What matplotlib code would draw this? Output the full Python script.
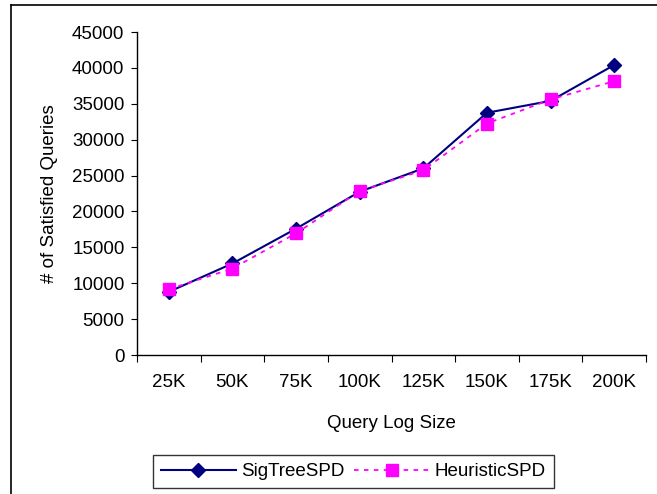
import matplotlib
matplotlib.use("Agg")
import matplotlib.pyplot as plt
from matplotlib.lines import Line2D
import numpy as np

# data
sizes = ["25K", "50K", "75K", "100K", "125K", "150K", "175K", "200K"]
sigtree = [8800, 12750, 17600, 22750, 26000, 33750, 35400, 40400]
heuristic = [9150, 12050, 16950, 22850, 25750, 32250, 35600, 38150]
yticks = [0, 5000, 10000, 15000, 20000, 25000, 30000, 35000, 40000, 45000]

plt.rcParams['font.family'] = ['Liberation Sans', 'DejaVu Sans']
fs = 13.5

W, H = 657, 494
fig = plt.figure(figsize=(W / 100, H / 100), dpi=100)

# plot area in pixels: x 137..646, y 32..355
ax = fig.add_axes([137 / W, 1 - 355 / H, (646 - 137) / W, (355 - 32) / H])

x = np.arange(len(sizes))
ax.plot(x, sigtree, color='#000080', lw=1.5, marker='D', ms=7,
        label='SigTreeSPD', zorder=3)
ax.plot(x, heuristic, color='#FF00FF', lw=1.3, ls=(0, (2.5, 3)), marker='s',
        ms=8, label='HeuristicSPD', zorder=4)

ax.set_xlim(-0.5, len(sizes) - 0.5)
ax.set_ylim(0, 45000)
ax.set_yticks(yticks)
ax.set_yticklabels([str(v) for v in yticks], fontsize=fs)
ax.set_xticks(np.arange(len(sizes) + 1) - 0.5)
ax.set_xticklabels([])
ax.set_xticks(x, minor=True)
ax.set_xticklabels(sizes, minor=True, fontsize=fs)
ax.tick_params(axis='x', which='minor', length=0, pad=14)
ax.tick_params(axis='x', which='major', length=5, direction='out', color='black')
ax.tick_params(axis='y', length=4, direction='out', pad=5)

for s in ['top', 'right']:
    ax.spines[s].set_visible(False)
for s in ['left', 'bottom']:
    ax.spines[s].set_color('black')
    ax.spines[s].set_linewidth(1.0)

ax.set_xlabel('Query Log Size', fontsize=fs, labelpad=17)
ax.set_ylabel('# of Satisfied Queries', fontsize=fs, labelpad=10)

leg = fig.legend(loc='center', bbox_to_anchor=((157 + 550) / 2 / W, 1 - (452 + 491) / 2 / H),
                 ncol=2, fontsize=fs, frameon=True, fancybox=False,
                 handlelength=4, columnspacing=0.5, handletextpad=0.3,
                 borderpad=0.4)
leg.get_frame().set_edgecolor('black')
leg.get_frame().set_linewidth(1.0)

# outer chart frame (only left and top edges are inside the image)
fig.add_artist(Line2D([11 / W, 11 / W], [0, 1 - 5 / H], color='black', lw=1.2))
fig.add_artist(Line2D([11 / W, 1], [1 - 5 / H, 1 - 5 / H], color='black', lw=1.2))

fig.savefig('out.png', dpi=100)
